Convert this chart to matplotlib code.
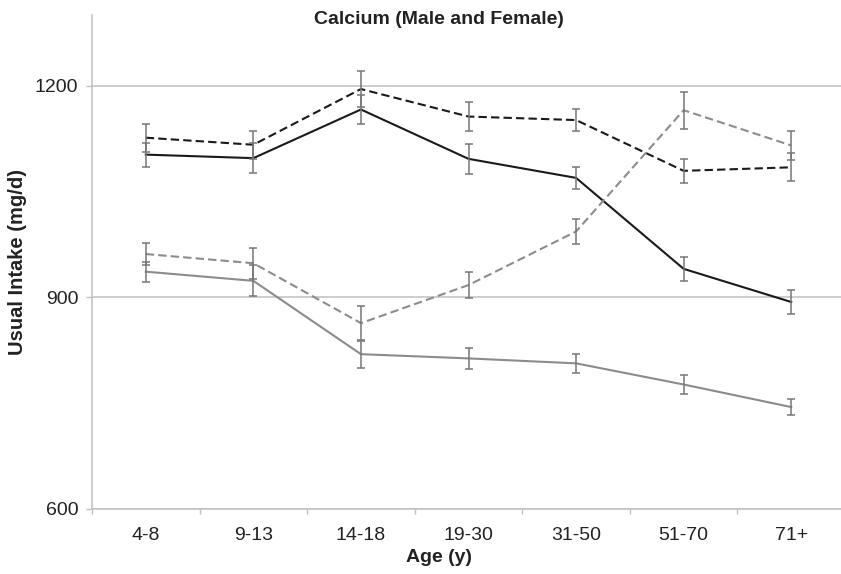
#!/usr/bin/env python3
import numpy as np
import matplotlib
matplotlib.use('Agg')
import matplotlib.pyplot as plt
import matplotlib.ticker as mticker

plt.rcParams['font.family'] = ['Liberation Sans', 'DejaVu Sans']

# 年齢区分
ages = ['4-8', '9-13', '14-18', '19-30', '31-50', '51-70', '71+']

# 通常摂取量 (mg/d) と標準誤差
male_total = [1126, 1116, 1195, 1156, 1151, 1079, 1084]
male_total_se = [20, 20, 25, 20, 16, 17, 20]
male_food = [1102, 1097, 1166, 1096, 1069, 940, 893]
male_food_se = [17, 21, 21, 21, 16, 17, 17]
female_total = [961, 948, 863, 917, 993, 1165, 1115]
female_total_se = [16, 22, 24, 19, 18, 26, 20]
female_food = [936, 923, 819, 813, 806, 776, 744]
female_food_se = [14, 22, 19, 15, 13, 13, 11]

dark = '#1a1a1a'
gray = '#8c8c8c'
bar_col = '#767676'
axis_col = '#c0c0c4'
text_col = '#222222'

fig = plt.figure(figsize=(8.41, 5.74), dpi=100)
ax = fig.add_axes([92 / 841, 1 - 508.6 / 574, 753 / 841, 493.6 / 574])

x = np.arange(len(ages))
series = [
    (male_total, male_total_se, dark, (4, 2)),
    (male_food, male_food_se, dark, None),
    (female_total, female_total_se, gray, (4, 2)),
    (female_food, female_food_se, gray, None),
]
for vals, se, col, dash in series:
    line, = ax.plot(x, vals, color=col, lw=1.5, zorder=3)
    if dash is not None:
        line.set_dashes(dash)
for vals, se, col, dash in series:
    ax.errorbar(x, vals, yerr=se, fmt='none', ecolor=bar_col, elinewidth=1.1,
                capsize=3, capthick=1.1, zorder=4)

# 軸範囲
ax.set_xlim(-0.5, len(ages) - 0.5)
ax.set_ylim(600, 1300)

# y軸の目盛り
ax.yaxis.set_major_locator(mticker.FixedLocator([600, 900, 1200]))
ax.yaxis.grid(True, color=axis_col, lw=1.1)
ax.set_axisbelow(True)
ax.tick_params(axis='y', length=4.3, width=1, color=axis_col, pad=5.5,
               labelsize=14, labelcolor=text_col)

# x軸の目盛り（区間の境界に目盛線）
ax.set_xticks(x)
ax.set_xticklabels(ages)
ax.xaxis.set_minor_locator(mticker.FixedLocator(np.arange(len(ages)) - 0.5))
ax.tick_params(axis='x', which='major', length=0, pad=13.5,
               labelsize=14, labelcolor=text_col)
ax.tick_params(axis='x', which='minor', length=3.6, width=1, color=axis_col)

for side in ['top', 'right']:
    ax.spines[side].set_visible(False)
for side in ['left', 'bottom']:
    ax.spines[side].set_color(axis_col)
    ax.spines[side].set_linewidth(1.1)

# タイトルと軸ラベル
fig.text(439 / 841, 1 - 20 / 574, 'Calcium (Male and Female)', ha='center',
         va='center', fontsize=14, fontweight='bold', color=text_col)
fig.text(439 / 841, 1 - 557 / 574, 'Age (y)', ha='center', va='center',
         fontsize=14, fontweight='bold', color=text_col)
fig.text(18 / 841, 1 - 262 / 574, 'Usual Intake (mg/d)', ha='center',
         va='center', rotation=90, fontsize=14.5, fontweight='bold',
         color=text_col)

plt.savefig('out.png', dpi=100)
plt.close()
